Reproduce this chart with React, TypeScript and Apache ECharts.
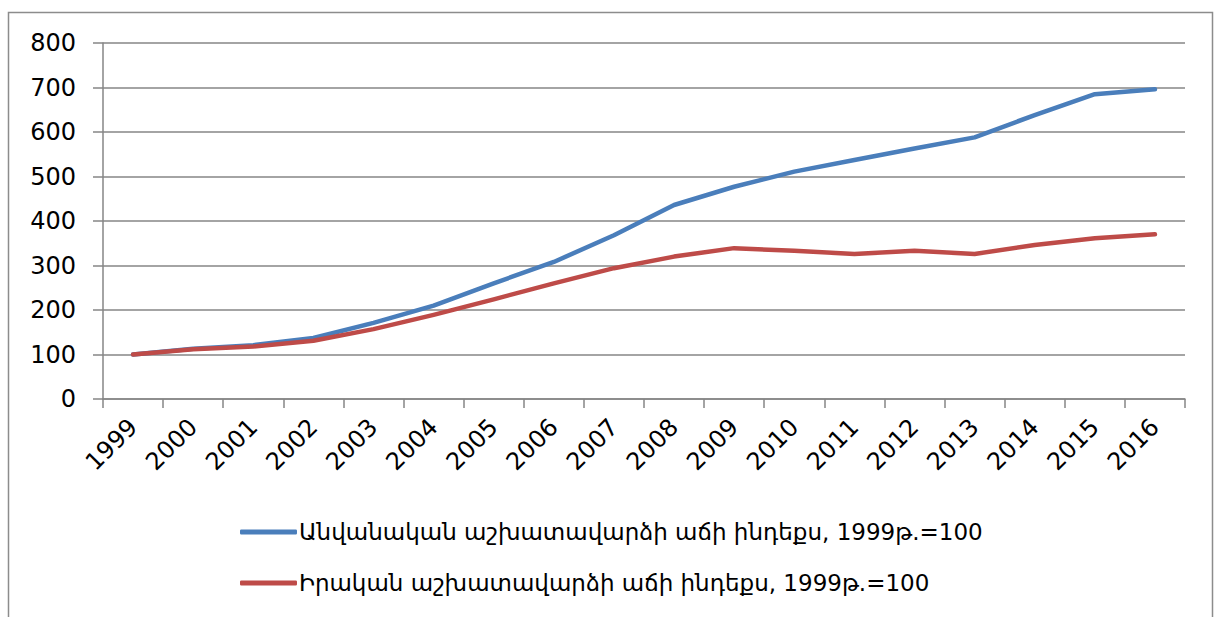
import React, { useEffect, useRef } from "react";
import * as echarts from "echarts";

const years = ["1999","2000","2001","2002","2003","2004","2005","2006","2007","2008","2009","2010","2011","2012","2013","2014","2015","2016"];
const nominal = [100, 113, 121, 137, 171, 210, 260, 308, 368, 436, 477, 511, 537, 563, 588, 638, 685, 696];
const real = [100, 112, 118, 131, 157, 189, 224, 260, 294, 320, 339, 333, 326, 333, 326, 346, 361, 370];
const nominalName = "Անվանական աշխատավարձի աճի ինդեքս, 1999թ.=100";
const realName = "Իրական աշխատավարձի աճի ինդեքս, 1999թ.=100";

const FONT = "DejaVu Sans";

export default function App() {
  const ref = useRef<HTMLDivElement>(null);
  useEffect(() => {
    document.body.style.margin = "0";
    const chart = echarts.init(ref.current!, null, { renderer: "svg" });
    chart.setOption({
      animation: false,
      backgroundColor: "#ffffff",
      textStyle: { fontFamily: FONT },
      graphic: [
        {
          type: "rect",
          shape: { x: 8.5, y: 12.5, width: 1204, height: 640 },
          style: { fill: "none", stroke: "#8c8c8c", lineWidth: 1.5 },
          silent: true,
        },
      ],
      grid: { left: 103, right: 29, top: 43, bottom: 218 },
      legend: {
        orient: "vertical",
        left: 240,
        top: 519,
        padding: 0,
        itemWidth: 57,
        itemHeight: 5,
        itemGap: 25,
        icon: "roundRect",
        textStyle: { fontFamily: FONT, fontSize: 23, color: "#000", lineHeight: 26, padding: [0, 0, 0, -3] },
        data: [nominalName, realName],
      },
      xAxis: {
        type: "category",
        data: years,
        boundaryGap: true,
        axisLine: { show: true, lineStyle: { color: "#868686", width: 1.5 } },
        axisTick: { show: true, length: 9, alignWithLabel: false, lineStyle: { color: "#868686", width: 1.5 } },
        axisLabel: { rotate: 45, margin: 24, fontSize: 24, color: "#000", fontFamily: FONT, interval: 0 },
        splitLine: { show: false },
      },
      yAxis: {
        type: "value",
        min: 0,
        max: 800,
        interval: 100,
        axisLine: { show: true, lineStyle: { color: "#868686", width: 1.5 } },
        axisTick: { show: true, length: 10, lineStyle: { color: "#868686", width: 1.5 } },
        axisLabel: { margin: 27, fontSize: 24, color: "#000", fontFamily: FONT },
        splitLine: { show: true, lineStyle: { color: "#868686", width: 1.5 } },
      },
      series: [
        {
          name: nominalName,
          type: "line",
          data: nominal,
          symbol: "none",
          color: "#4A7EBB",
          lineStyle: { width: 4.5, color: "#4A7EBB", cap: "round", join: "round" },
        },
        {
          name: realName,
          type: "line",
          data: real,
          symbol: "none",
          color: "#BE4B48",
          lineStyle: { width: 4.5, color: "#BE4B48", cap: "round", join: "round" },
        },
      ],
    });
    return () => chart.dispose();
  }, []);
  return <div ref={ref} style={{ position: "fixed", left: 0, top: 0, width: 1214, height: 617 }} />;
}
